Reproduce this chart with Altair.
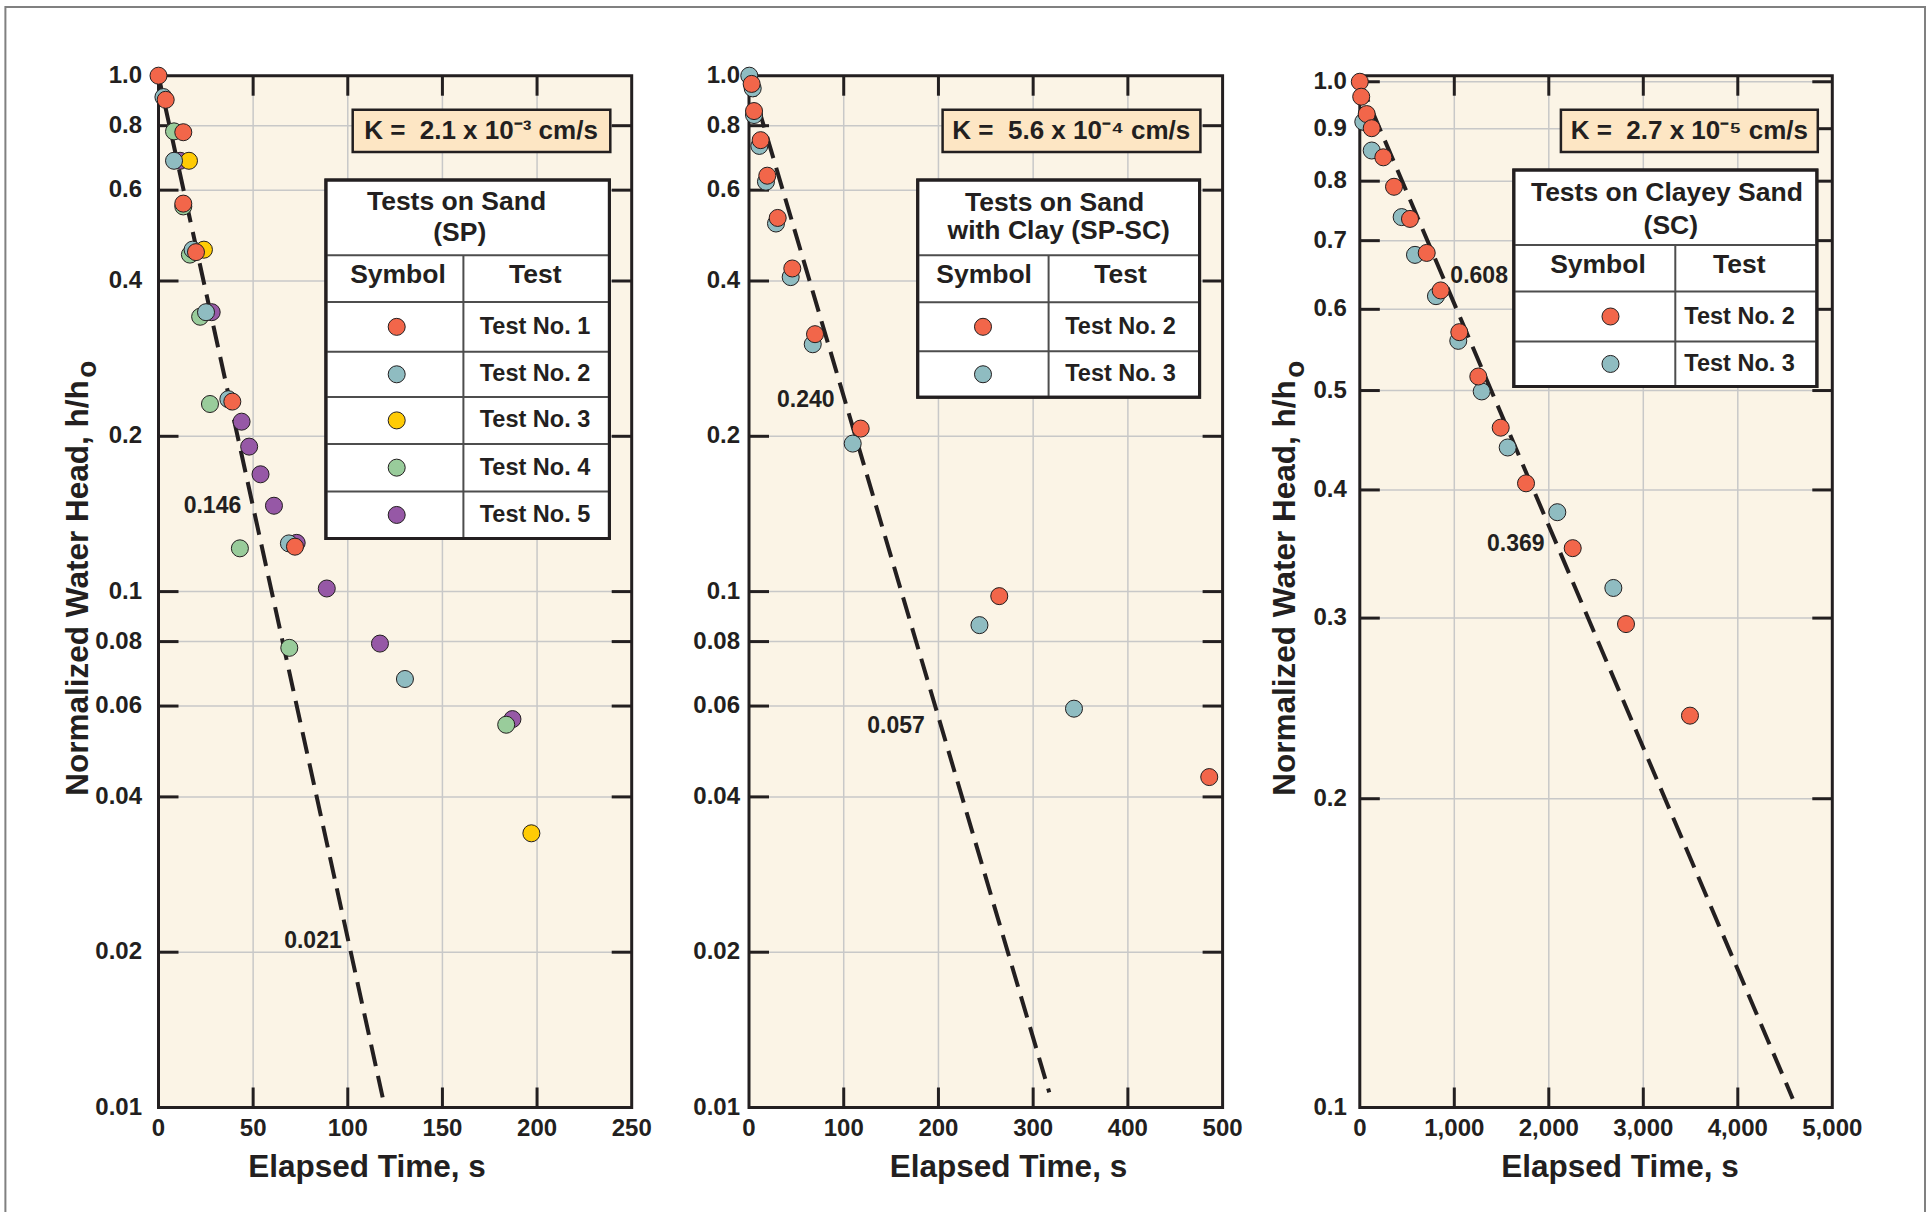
import altair as alt
import pandas as pd

# ---------------------------------------------------------------------------
# Falling-head tests: elapsed time (s) and normalized water head h/ho
# ---------------------------------------------------------------------------

# Tests on Sand (SP)
sp_t1_time = [0, 3.8, 13.1, 13.1, 19.8, 39.0, 72.1]
sp_t1_head = [1.0, 0.898, 0.777, 0.565, 0.455, 0.2335, 0.1222]
sp_t2_time = [2.6, 8.2, 18.0, 25.1, 36.9, 68.9, 130.2]
sp_t2_head = [0.909, 0.684, 0.460, 0.348, 0.236, 0.124, 0.0677]
sp_t3_time = [16.1, 24.0, 197.0]
sp_t3_head = [0.684, 0.460, 0.034]
sp_t4_time = [8.2, 13.1, 16.6, 22.0, 27.2, 43.0, 69.1, 183.7]
sp_t4_head = [0.780, 0.558, 0.450, 0.341, 0.231, 0.1213, 0.0778, 0.0552]
sp_t5_time = [11.4, 28.1, 43.9, 47.9, 53.9, 61.0, 73.0, 88.9, 117.0, 187.0]
sp_t5_head = [0.684, 0.348, 0.2135, 0.191, 0.1688, 0.1467, 0.1243, 0.1014, 0.0793, 0.0566]
sp_fit_time = [0, 119.6]
sp_fit_head = [1.0, 0.01]
sp_note_text = ["0.146", "0.021"]
sp_note_time = [28.5, 81.6]
sp_note_head = [0.1467, 0.021]

# Tests on Sand with Clay (SP-SC)
spsc_t2_time = [2.8, 5.3, 12.3, 19.3, 30.3, 45.7, 69.7, 117.9, 264.2, 485.9]
spsc_t2_head = [0.964, 0.854, 0.750, 0.640, 0.530, 0.423, 0.3155, 0.207, 0.098, 0.0437]
spsc_t3_time = [0.3, 3.9, 5.3, 10.9, 17.9, 28.5, 44.0, 67.3, 109.5, 243.3, 343.1]
spsc_t3_head = [1.0, 0.945, 0.839, 0.731, 0.623, 0.517, 0.407, 0.3016, 0.1936, 0.0861, 0.0593]
spsc_fit_time = [0, 317.0]
spsc_fit_head = [1.0, 0.0107]
spsc_note_text = ["0.240", "0.057"]
spsc_note_time = [60.0, 155.3]
spsc_note_head = [0.235, 0.0548]

# Tests on Clayey Sand (SC)
sc_t2_time = [0, 15, 73, 126, 249, 362, 531, 708, 856, 1053, 1254, 1491, 1759, 2253, 2817, 3494]
sc_t2_head = [1.0, 0.967, 0.930, 0.901, 0.844, 0.790, 0.735, 0.681, 0.626, 0.570,
              0.516, 0.460, 0.406, 0.351, 0.296, 0.241]
sc_t3_time = [37, 126, 443, 584, 806, 1042, 1290, 1565, 2090, 2683]
sc_t3_head = [0.914, 0.857, 0.738, 0.678, 0.618, 0.559, 0.499, 0.440, 0.3805, 0.321]
sc_fit_time = [0, 4581]
sc_fit_head = [1.0, 0.102]
sc_note_text = ["0.608", "0.369"]
sc_note_time = [1263, 1651]
sc_note_head = [0.646, 0.3545]

# Axis ticks and labels
sand_head_ticks = [1.0, 0.8, 0.6, 0.4, 0.2, 0.1, 0.08, 0.06, 0.04, 0.02, 0.01]
sand_head_labels = ["1.0", "0.8", "0.6", "0.4", "0.2", "0.1", "0.08", "0.06", "0.04", "0.02", "0.01"]
clay_head_ticks = [1.0, 0.9, 0.8, 0.7, 0.6, 0.5, 0.4, 0.3, 0.2, 0.1]
clay_head_labels = ["1.0", "0.9", "0.8", "0.7", "0.6", "0.5", "0.4", "0.3", "0.2", "0.1"]
sp_time_ticks = [0, 50, 100, 150, 200, 250]
sp_time_labels = ["0", "50", "100", "150", "200", "250"]
spsc_time_ticks = [0, 100, 200, 300, 400, 500]
spsc_time_labels = ["0", "100", "200", "300", "400", "500"]
sc_time_ticks = [0, 1000, 2000, 3000, 4000, 5000]
sc_time_labels = ["0", "1,000", "2,000", "3,000", "4,000", "5,000"]

# Texts
k_labels = ["K =\u00a0\u00a02.1 x 10\u207b\u00b3 cm/s",
            "K =\u00a0\u00a05.6 x 10\u207b\u2074 cm/s",
            "K =\u00a0\u00a02.7 x 10\u207b\u2075 cm/s"]
table_titles = [["Tests on Sand", "(SP)"], ["Tests on Sand", "with Clay (SP-SC)"],
                ["Tests on Clayey Sand", "(SC)"]]
x_title = "Elapsed Time, s"
y_title = "Normalized Water Head, h/h"
y_title_sub = "o"

# ---------------------------------------------------------------------------
# Styling
# ---------------------------------------------------------------------------
FONT = "Liberation Sans"
INK = "#231f20"
GRID = "#c8c8c8"
CREAM = "#fbf4e6"
PEACH = "#fde6c4"
TABLE_LINE = "#4d4d4d"
RED, TEAL, YELLOW, GREEN, PURPLE = "#f2664a", "#8fbcc1", "#ffcb05", "#99cc9b", "#9658a6"

TOP, BOTTOM = 75.7, 1107.5
W, H = 1927, 1212

panels = [
    dict(
        series=[("Test No. 1", sp_t1_time, sp_t1_head, RED),
                ("Test No. 2", sp_t2_time, sp_t2_head, TEAL),
                ("Test No. 3", sp_t3_time, sp_t3_head, YELLOW),
                ("Test No. 4", sp_t4_time, sp_t4_head, GREEN),
                ("Test No. 5", sp_t5_time, sp_t5_head, PURPLE)],
        draw_order=["Test No. 5", "Test No. 3", "Test No. 4", "Test No. 2", "Test No. 1"],
        fit=(sp_fit_time, sp_fit_head), notes=(sp_note_text, sp_note_time, sp_note_head),
        xticks=(sp_time_ticks, sp_time_labels), yticks=(sand_head_ticks, sand_head_labels),
        xmax=250, ymin=0.01, ymax=1.0,
    ),
    dict(
        series=[("Test No. 2", spsc_t2_time, spsc_t2_head, RED),
                ("Test No. 3", spsc_t3_time, spsc_t3_head, TEAL)],
        draw_order=["Test No. 3", "Test No. 2"],
        fit=(spsc_fit_time, spsc_fit_head), notes=(spsc_note_text, spsc_note_time, spsc_note_head),
        xticks=(spsc_time_ticks, spsc_time_labels), yticks=(sand_head_ticks, sand_head_labels),
        xmax=500, ymin=0.01, ymax=1.0,
    ),
    dict(
        series=[("Test No. 2", sc_t2_time, sc_t2_head, RED),
                ("Test No. 3", sc_t3_time, sc_t3_head, TEAL)],
        draw_order=["Test No. 3", "Test No. 2"],
        fit=(sc_fit_time, sc_fit_head), notes=(sc_note_text, sc_note_time, sc_note_head),
        xticks=(sc_time_ticks, sc_time_labels), yticks=(clay_head_ticks, clay_head_labels),
        xmax=5000, ymin=0.1, ymax=1.0137,
    ),
]

# Page layout of each panel (pixels)
layout = [
    dict(left=158.5, right=631.7, ylab_pad=16.5, xtitle_x=367, ytitle_x=88.0, ysub_x=95.5,
         kbox=(352.7, 610.3, 109.8, 151.9), ktext=(481.0, 131.0),
         table=dict(left=325.9, right=609.4, top=179.9, bottom=538.5, head=255.3, cols=302.0,
                    rows=[351.7, 396.9, 443.9, 491.4], div=463.4,
                    title_xy=[(456.5, 201.7), (459.8, 233.4)], symbol_xy=(398.0, 274.8),
                    test_xy=(535.3, 274.8), row_text_x=535.0, sym_x=396.7)),
    dict(left=749.0, right=1222.6, ylab_pad=9.0, xtitle_x=1008.4, ytitle_x=None, ysub_x=None,
         kbox=(942.6, 1200.4, 109.8, 151.9), ktext=(1071.3, 131.0),
         table=dict(left=917.7, right=1199.6, top=179.9, bottom=397.2, head=255.3, cols=302.3,
                    rows=[351.3], div=1048.6,
                    title_xy=[(1054.7, 202.8), (1058.7, 230.8)], symbol_xy=(984.1, 274.8),
                    test_xy=(1120.5, 274.8), row_text_x=1120.5, sym_x=983.0)),
    dict(left=1359.8, right=1832.3, ylab_pad=13.0, xtitle_x=1620.0, ytitle_x=1295.3, ysub_x=1303.5,
         kbox=(1560.9, 1817.8, 109.8, 151.9), ktext=(1689.3, 131.0),
         table=dict(left=1513.8, right=1816.9, top=169.9, bottom=386.5, head=244.9, cols=291.6,
                    rows=[341.4], div=1675.3,
                    title_xy=[(1666.9, 193.3), (1670.8, 225.8)], symbol_xy=(1598.0, 265.2),
                    test_xy=(1739.2, 265.2), row_text_x=1739.6, sym_x=1610.5)),
]


def bold_text(size, **kw):
    return dict(font=FONT, fontSize=size, fontWeight="bold", color=INK, **kw)


def data_layers(spec, lay):
    """Frame, grid, ticks, labels, fitted line and test points of one panel."""
    xsc = alt.Scale(domain=[0, spec["xmax"]], range=[lay["left"], lay["right"]], nice=False, zero=False)
    ysc = alt.Scale(type="log", domain=[spec["ymin"], spec["ymax"]], range=[BOTTOM, TOP], nice=False)

    def xd(v):
        return alt.XDatum(v, scale=xsc, axis=None, type="quantitative")

    def yd(v):
        return alt.YDatum(v, scale=ysc, axis=None, type="quantitative")

    xf = alt.X("t:Q", scale=xsc, axis=None)
    yf = alt.Y("v:Q", scale=ysc, axis=None)
    one = pd.DataFrame({"k": [0]})
    xt = pd.DataFrame({"t": spec["xticks"][0], "lab": spec["xticks"][1]})
    yt = pd.DataFrame({"v": spec["yticks"][0], "lab": spec["yticks"][1]})
    x_in = xt[(xt.t > 0) & (xt.t < spec["xmax"])]
    y_in = yt[(yt.v > spec["ymin"]) & (yt.v < spec["ymax"] * 0.99)]
    xmax, ymin, ymax = spec["xmax"], spec["ymin"], spec["ymax"]

    out = []
    # plot background
    out.append(alt.Chart(one).mark_rect(fill=CREAM).encode(
        x=xd(0), x2=alt.X2Datum(xmax), y=yd(ymin), y2=alt.Y2Datum(ymax)))
    # grid
    out.append(alt.Chart(y_in).mark_rule(color=GRID, strokeWidth=1.5).encode(
        y=yf, x=xd(0), x2=alt.X2Datum(xmax)))
    out.append(alt.Chart(x_in).mark_rule(color=GRID, strokeWidth=1.5).encode(
        x=xf, y=yd(ymin), y2=alt.Y2Datum(ymax)))
    # frame
    out.append(alt.Chart(one).mark_rect(fillOpacity=0, stroke=INK, strokeWidth=3).encode(
        x=xd(0), x2=alt.X2Datum(xmax), y=yd(ymin), y2=alt.Y2Datum(ymax)))
    # inward ticks on all four sides
    out.append(alt.Chart(y_in).mark_rule(color=INK, strokeWidth=3, x2Offset=20).encode(
        y=yf, x=xd(0), x2=alt.X2Datum(0)))
    out.append(alt.Chart(y_in).mark_rule(color=INK, strokeWidth=3, x2Offset=-20).encode(
        y=yf, x=xd(xmax), x2=alt.X2Datum(xmax)))
    out.append(alt.Chart(x_in).mark_rule(color=INK, strokeWidth=3, y2Offset=20).encode(
        x=xf, y=yd(ymax), y2=alt.Y2Datum(ymax)))
    out.append(alt.Chart(x_in).mark_rule(color=INK, strokeWidth=3, y2Offset=-20).encode(
        x=xf, y=yd(ymin), y2=alt.Y2Datum(ymin)))
    # tick labels
    out.append(alt.Chart(yt).mark_text(**bold_text(24, align="right", baseline="middle",
                                                   dx=-lay["ylab_pad"])).encode(
        x=xd(0), y=yf, text="lab:N"))
    out.append(alt.Chart(xt).mark_text(**bold_text(24, align="center", baseline="middle",
                                                   dy=21)).encode(
        x=xf, y=yd(ymin), text="lab:N"))
    # fitted line
    fit = pd.DataFrame({"t": spec["fit"][0], "v": spec["fit"][1]})
    out.append(alt.Chart(fit).mark_line(color=INK, strokeWidth=4, strokeDash=[22, 10]).encode(
        x=xf, y=yf))
    # test points
    by_name = {s[0]: s for s in spec["series"]}
    rows = []
    for name in spec["draw_order"]:
        _, times, heads, _ = by_name[name]
        rows += [{"t": t, "v": v, "test": name} for t, v in zip(times, heads)]
    pts = pd.DataFrame(rows)
    out.append(alt.Chart(pts).mark_circle(size=290, opacity=1, stroke=INK, strokeWidth=1).encode(
        x=xf, y=yf,
        fill=alt.Fill("test:N", legend=None,
                      scale=alt.Scale(domain=[s[0] for s in spec["series"]],
                                      range=[s[3] for s in spec["series"]]))))
    # slope annotations
    notes = pd.DataFrame({"txt": spec["notes"][0], "t": spec["notes"][1], "v": spec["notes"][2]})
    out.append(alt.Chart(notes).mark_text(**bold_text(23, align="center", baseline="middle")).encode(
        x=xf, y=yf, text="txt:N"))
    return out


def px(field, ch):
    if ch == "x":
        return alt.X(f"{field}:Q", scale=None, axis=None)
    return alt.Y(f"{field}:Q", scale=None, axis=None)


# Decorations placed in page pixels: K boxes, legend tables, titles, border
lines, frames, kboxes, ktexts, head_txt = [], [], [], [], []
row_txt, syms, xtitles, ytitles, ysubs = [], [], [], [], []
for i, (spec, lay) in enumerate(zip(panels, layout)):
    tb = lay["table"]
    frames.append({"x": tb["left"], "x2": tb["right"], "y": tb["top"], "y2": tb["bottom"]})
    for yy in [tb["head"], tb["cols"]] + tb["rows"]:
        lines.append({"x": tb["left"], "x2": tb["right"], "y": yy, "y2": yy})
    lines.append({"x": tb["div"], "x2": tb["div"], "y": tb["head"], "y2": tb["bottom"]})
    for txt, (tx, ty) in zip(table_titles[i], tb["title_xy"]):
        head_txt.append({"x": tx, "y": ty, "txt": txt})
    head_txt.append({"x": tb["symbol_xy"][0], "y": tb["symbol_xy"][1], "txt": "Symbol"})
    head_txt.append({"x": tb["test_xy"][0], "y": tb["test_xy"][1], "txt": "Test"})
    edges = [tb["cols"]] + tb["rows"] + [tb["bottom"]]
    for (name, _, _, color), a, b in zip(spec["series"], edges[:-1], edges[1:]):
        cy = (a + b) / 2
        row_txt.append({"x": tb["row_text_x"], "y": cy, "txt": name})
        syms.append({"x": tb["sym_x"], "y": cy, "c": color})
    kx, kx2, ky, ky2 = lay["kbox"]
    kboxes.append({"x": kx, "x2": kx2, "y": ky, "y2": ky2})
    ktexts.append({"x": lay["ktext"][0], "y": lay["ktext"][1], "txt": k_labels[i]})
    xtitles.append({"x": lay["xtitle_x"], "y": 1168.0, "txt": x_title})
    if lay["ytitle_x"] is not None:
        ytitles.append({"x": lay["ytitle_x"], "y": 588.0, "txt": y_title})
        ysubs.append({"x": lay["ysub_x"], "y": 369.3, "txt": y_title_sub})

deco = []
deco.append(alt.Chart(pd.DataFrame([{"x": 5.4, "x2": 1925.0, "y": 6.9, "y2": 1260.0}]))
            .mark_rect(fillOpacity=0, stroke="#808080", strokeWidth=2)
            .encode(x=px("x", "x"), x2="x2:Q", y=px("y", "y"), y2="y2:Q"))
deco.append(alt.Chart(pd.DataFrame(kboxes)).mark_rect(fill=PEACH, stroke=INK, strokeWidth=2.5)
            .encode(x=px("x", "x"), x2="x2:Q", y=px("y", "y"), y2="y2:Q"))
deco.append(alt.Chart(pd.DataFrame(ktexts)).mark_text(**bold_text(26, align="center", baseline="middle"))
            .encode(x=px("x", "x"), y=px("y", "y"), text="txt:N"))
deco.append(alt.Chart(pd.DataFrame(frames)).mark_rect(fill="white", stroke=INK, strokeWidth=3)
            .encode(x=px("x", "x"), x2="x2:Q", y=px("y", "y"), y2="y2:Q"))
deco.append(alt.Chart(pd.DataFrame(lines)).mark_rule(color=TABLE_LINE, strokeWidth=2)
            .encode(x=px("x", "x"), x2="x2:Q", y=px("y", "y"), y2="y2:Q"))
deco.append(alt.Chart(pd.DataFrame(frames)).mark_rect(fillOpacity=0, stroke=INK, strokeWidth=3)
            .encode(x=px("x", "x"), x2="x2:Q", y=px("y", "y"), y2="y2:Q"))
deco.append(alt.Chart(pd.DataFrame(head_txt)).mark_text(**bold_text(26.5, align="center", baseline="middle"))
            .encode(x=px("x", "x"), y=px("y", "y"), text="txt:N"))
deco.append(alt.Chart(pd.DataFrame(row_txt)).mark_text(**bold_text(23.5, align="center", baseline="middle"))
            .encode(x=px("x", "x"), y=px("y", "y"), text="txt:N"))
deco.append(alt.Chart(pd.DataFrame(syms)).mark_circle(size=290, opacity=1, stroke=INK, strokeWidth=1)
            .encode(x=px("x", "x"), y=px("y", "y"), fill=alt.Fill("c:N", scale=None)))
deco.append(alt.Chart(pd.DataFrame(xtitles)).mark_text(**bold_text(31.5, align="center", baseline="middle"))
            .encode(x=px("x", "x"), y=px("y", "y"), text="txt:N"))
deco.append(alt.Chart(pd.DataFrame(ytitles)).mark_text(**bold_text(31.5, align="center", baseline="alphabetic",
                                                                   angle=270))
            .encode(x=px("x", "x"), y=px("y", "y"), text="txt:N"))
deco.append(alt.Chart(pd.DataFrame(ysubs)).mark_text(**bold_text(28, align="center", baseline="alphabetic",
                                                                 angle=270))
            .encode(x=px("x", "x"), y=px("y", "y"), text="txt:N"))

layers = []
for spec, lay in zip(panels, layout):
    layers += data_layers(spec, lay)[:-2]
# tables and boxes sit above the grid, points and notes on top of everything
layers += deco
for spec, lay in zip(panels, layout):
    layers += data_layers(spec, lay)[-2:]

chart = (
    alt.layer(*layers)
    .resolve_scale(x="independent", y="independent", fill="independent")
    .properties(width=W, height=H, autosize=alt.AutoSizeParams(type="none"), padding=0,
                background="white")
    .configure_view(strokeWidth=0)
)

chart.save("out.html", embed_options={"renderer": "svg", "actions": False})
